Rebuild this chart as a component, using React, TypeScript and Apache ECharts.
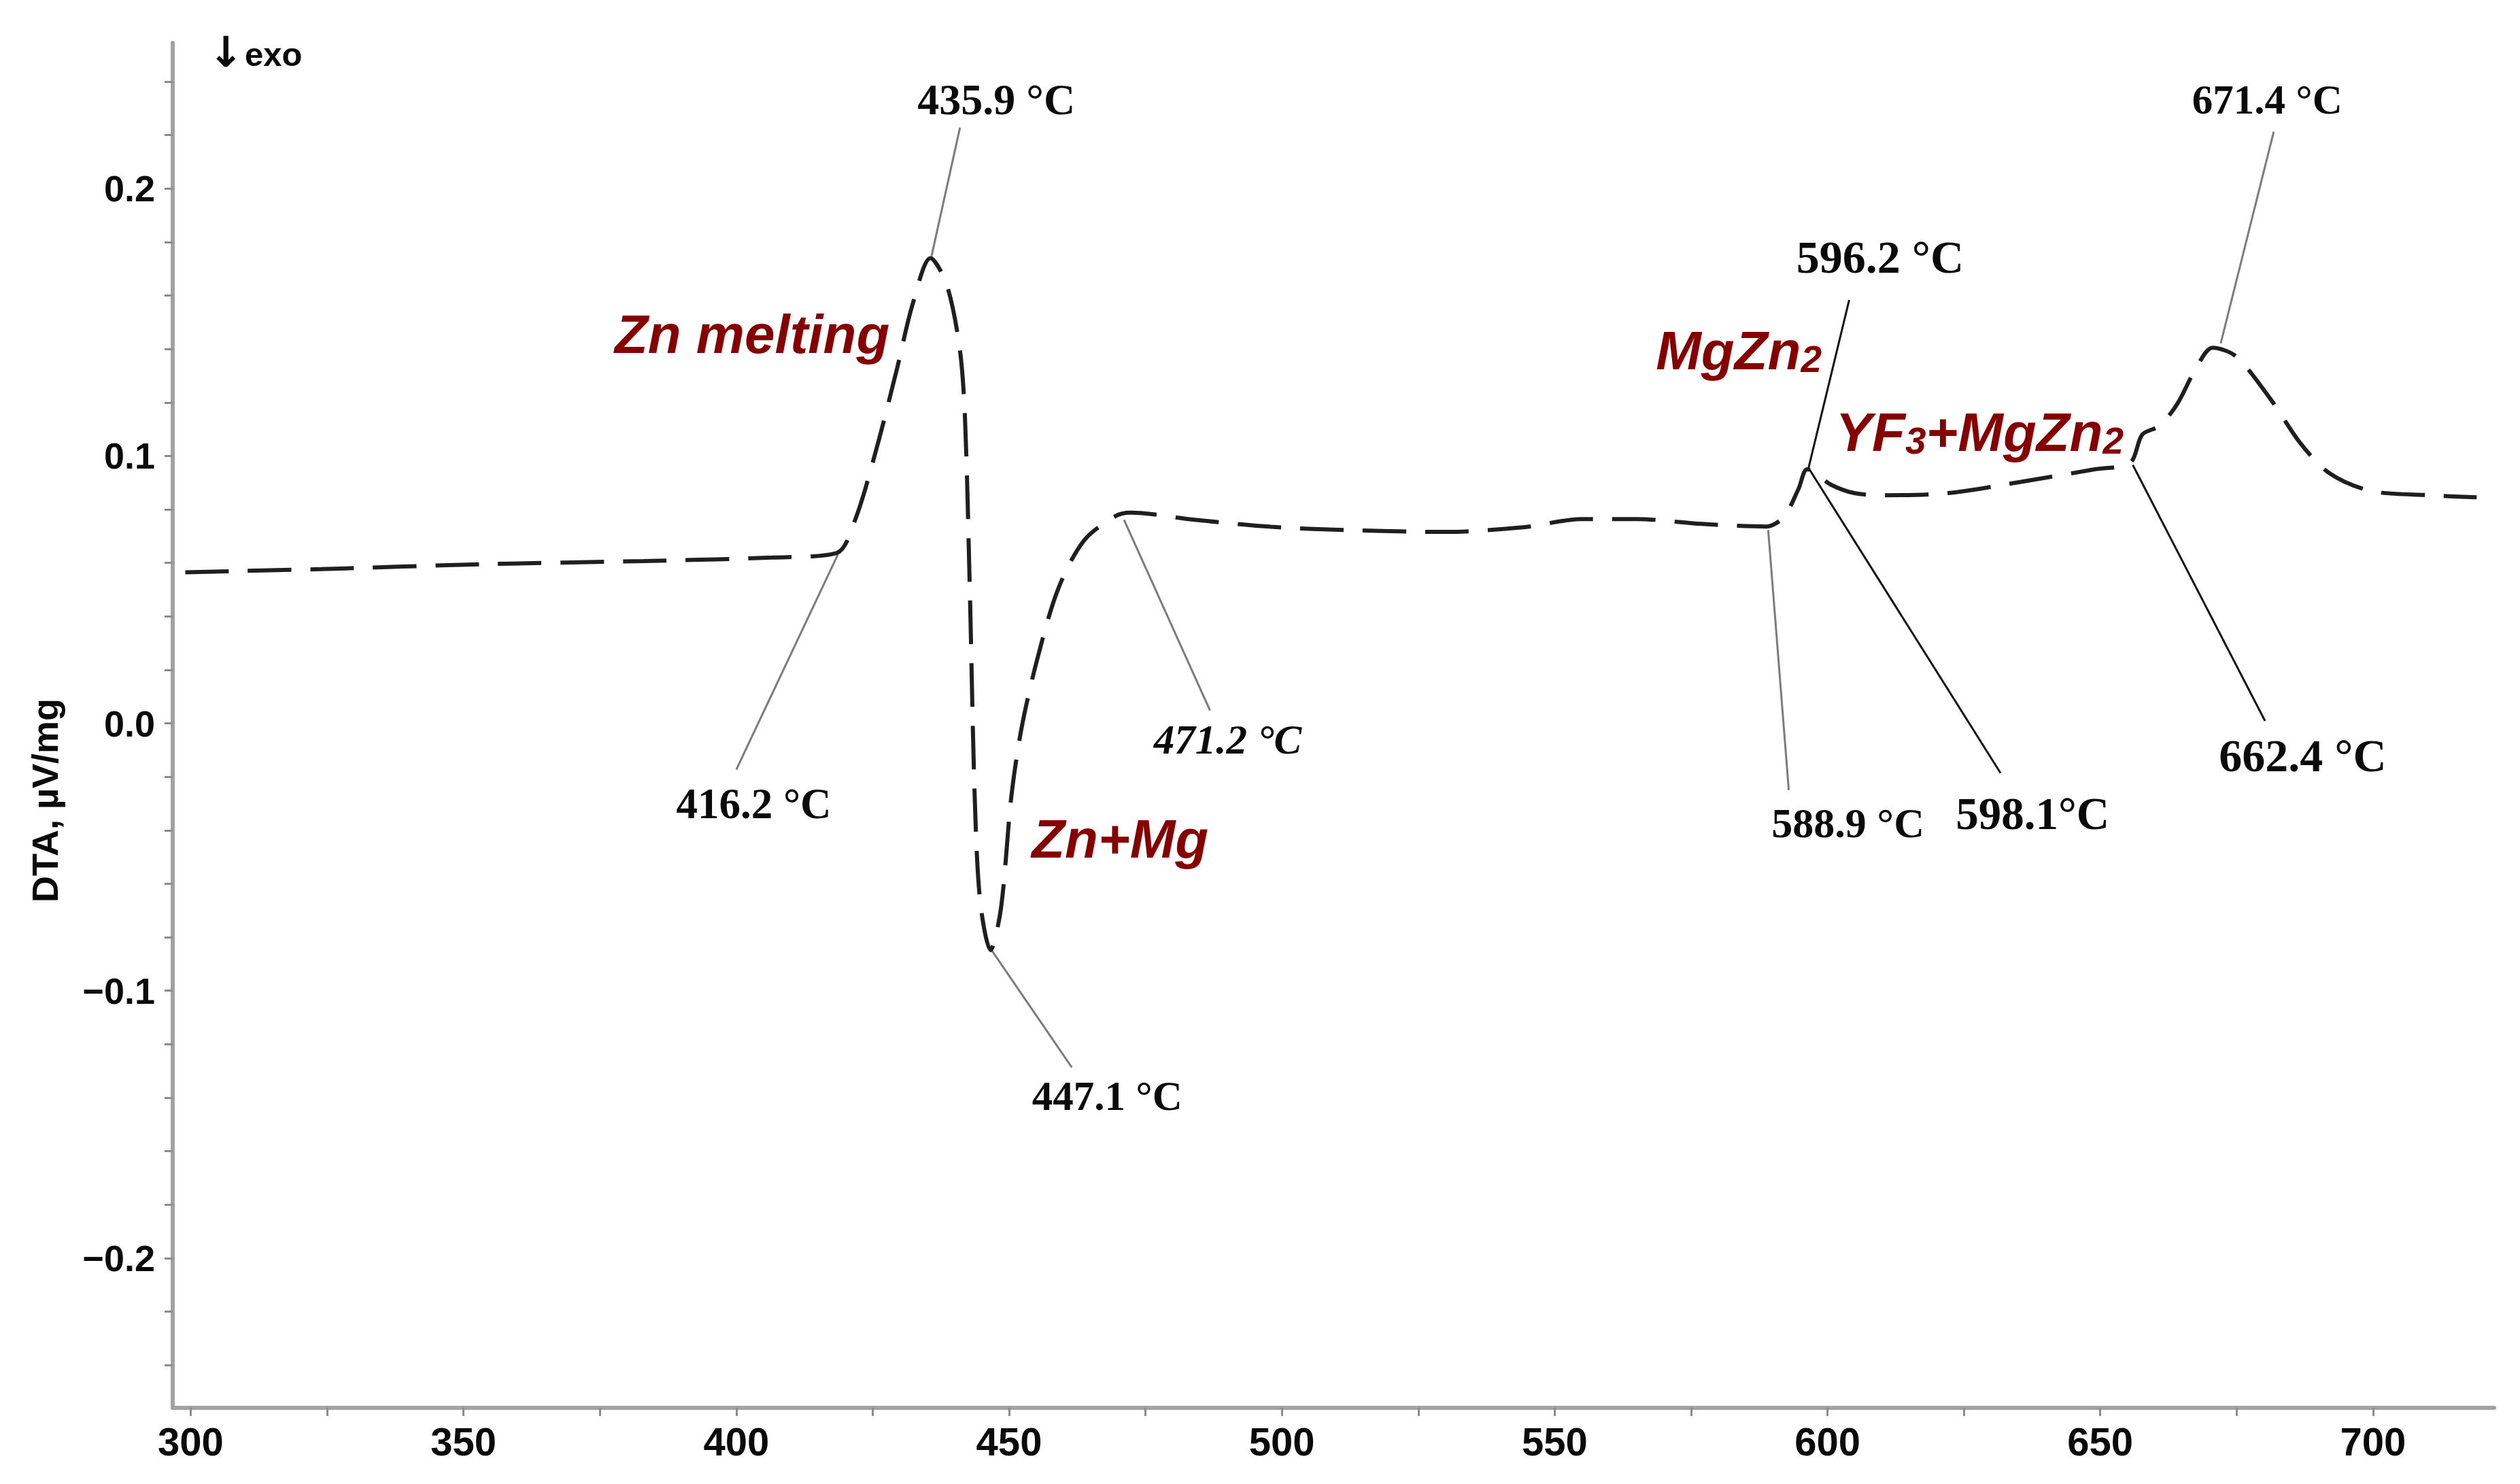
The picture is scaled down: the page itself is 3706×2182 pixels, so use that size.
import React, { useEffect, useRef } from 'react';
import * as echarts from 'echarts';

// ---- DTA curve (temperature °C, DTA µV/mg) ----
const temperature = [
  299, 324, 353.5, 383, 406.6, 418.4, 421.8, 425.6, 429.5, 432.3, 435.6, 438.5, 440.9, 441.9,
  442.8, 443.7, 444.7, 446.6, 448.5, 450.4, 452.3, 455.2, 459, 463.7, 469.5, 472.3, 483.7, 498,
  513.3, 529.9, 544.6, 554.8, 565.1, 576.9, 588.8, 592, 594.7, 596.3, 600.6, 604.9, 610.3, 622.1,
  635.1, 649, 655.5, 657.7, 660.9, 664.1, 667.4, 670.6, 674.9, 681.3, 686.7, 692.1, 699.6, 710.4, 719,
];
const dta = [
  0.0565, 0.0577, 0.0595, 0.0607, 0.062, 0.0637, 0.0762, 0.102, 0.133, 0.1566, 0.174, 0.1645, 0.141, 0.115,
  0.05, -0.0276, -0.0666, -0.0848, -0.0693, -0.0276, -0.0016, 0.0243, 0.0503, 0.0683, 0.0775, 0.0788, 0.0762, 0.0735,
  0.0722, 0.0716, 0.0734, 0.0764, 0.0764, 0.0746, 0.0736, 0.0772, 0.0877, 0.095, 0.0893, 0.0861, 0.0853, 0.0861,
  0.0902, 0.095, 0.0975, 0.108, 0.1113, 0.1194, 0.1322, 0.1405, 0.1372, 0.121, 0.1047, 0.0934, 0.0869, 0.0853, 0.0845,
];

// ---- axes ----
const xMin = 296.7;
const xMax = 722.2;
const yMin = -0.256;
const yMax = 0.2545;
const xTickValues = [300, 325, 350, 375, 400, 425, 450, 475, 500, 525, 550, 575, 600, 625, 650, 675, 700];
const xLabelValues = [300, 350, 400, 450, 500, 550, 600, 650, 700];
const yTickValues = [
  -0.24, -0.22, -0.2, -0.18, -0.16, -0.14, -0.12, -0.1, -0.08, -0.06, -0.04, -0.02, 0,
  0.02, 0.04, 0.06, 0.08, 0.1, 0.12, 0.14, 0.16, 0.18, 0.2, 0.22, 0.24,
];
const yLabelValues = [-0.2, -0.1, 0, 0.1, 0.2];
const yAxisTitle = 'DTA, µV/mg';
const exoArrow = '↓';
const exoText = 'exo';

// ---- temperature annotations ----
const peakTexts = ['435.9 °C', '416.2 °C', '471.2 °C', '447.1 °C', '596.2 °C', '588.9 °C', '598.1°C', '662.4 °C', '671.4 °C'];
const peakTextT = [447.66, 403.2, 490.07, 467.98, 609.65, 603.75, 637.6, 687.1, 680.6];
const peakTextV = [0.2333, -0.0301, -0.006, -0.1395, 0.1744, -0.0373, -0.0337, -0.012, 0.2333];
const leaderFromT = [435.79, 418.62, 471.07, 446.78, 596.47, 589.14, 596.68, 655.97, 672.08];
const leaderFromV = [0.1748, 0.0631, 0.0761, -0.0848, 0.095, 0.0723, 0.095, 0.0966, 0.1421];
const leaderToT = [441.0, 400.0, 486.83, 461.5, 603.98, 592.91, 631.73, 680.2, 681.8];
const leaderToV = [0.2228, -0.0173, 0.0048, -0.1287, 0.1583, -0.025, -0.0186, 0.0009, 0.2213];

// ---- phase annotations ----
const phaseTexts = ['Zn melting', 'Zn+Mg', '{m|MgZn}{s|2}', '{m|YF}{s|3}{m|+MgZn}{s|2}'];
const phaseT = [402.9, 470.34, 583.74, 627.9];
const phaseV = [0.1455, -0.0433, 0.1395, 0.1089];

// ---- styles ----
const peakItalic = [false, false, true, false, false, false, false, false, false];
const peakFontSize = [64, 63, 61, 61, 68, 62, 67, 68, 61];
const leaderDark = [false, false, false, false, true, false, true, true, false];
const serif = "'Liberation Serif', 'Times New Roman', serif";
const sans = "'Liberation Sans', Arial, sans-serif";
const red = '#850000';
const ink = '#0a0a0a';

export default function App() {
  const ref = useRef<HTMLDivElement>(null);

  useEffect(() => {
    if (!ref.current) return;
    const chart = echarts.init(ref.current, null, { renderer: 'svg' });

    const curve = temperature.map((t, i) => [t, dta[i]]);

    const peakItems = peakTexts.map((txt, i) => ({
      value: [peakTextT[i], peakTextV[i]],
      name: txt,
      label: {
        fontSize: peakFontSize[i],
        fontStyle: peakItalic[i] ? 'italic' : 'normal',
      },
    }));

    const phaseItems = phaseTexts.map((txt, i) => ({
      value: [phaseT[i], phaseV[i]],
      name: txt,
    }));

    const leaders = peakTexts.map((_, i) => ({
      coords: [
        [leaderFromT[i], leaderFromV[i]],
        [leaderToT[i], leaderToV[i]],
      ],
      lineStyle: {
        color: leaderDark[i] ? '#141414' : '#7c7c7c',
        width: 3,
        opacity: 1,
      },
    }));

    const axisGray = '#a2a2a2';

    chart.setOption({
      animation: false,
      backgroundColor: '#ffffff',
      grid: { left: 254, right: 38, top: 63, bottom: 112, containLabel: false },
      xAxis: {
        type: 'value',
        min: xMin,
        max: xMax,
        axisLine: { show: true, onZero: false, lineStyle: { color: axisGray, width: 6 } },
        axisTick: {
          show: true,
          customValues: xTickValues,
          length: 12,
          lineStyle: { color: '#8c8c8c', width: 3 },
        },
        axisLabel: {
          customValues: xLabelValues,
          margin: 20,
          fontFamily: "'Liberation Sans Narrow', 'Arial Narrow', 'Liberation Sans', Arial, sans-serif",
          fontWeight: 'bold',
          fontSize: 58,
          color: ink,
          formatter: (v: number) => String(Math.round(v)),
        },
        splitLine: { show: false },
      },
      yAxis: {
        type: 'value',
        min: yMin,
        max: yMax,
        axisLine: { show: true, onZero: false, lineStyle: { color: axisGray, width: 6 } },
        axisTick: {
          show: true,
          customValues: yTickValues,
          length: 12,
          lineStyle: { color: '#8c8c8c', width: 3 },
        },
        axisLabel: {
          customValues: yLabelValues,
          margin: 26,
          fontFamily: sans,
          fontWeight: 'bold',
          fontSize: 54,
          color: ink,
          formatter: (v: number) => {
            const r = Math.round(v * 10) / 10;
            return (r < 0 ? '\u2212' : '') + Math.abs(r).toFixed(1);
          },
        },
        splitLine: { show: false },
      },
      graphic: [
        {
          type: 'text',
          x: 306,
          y: 76,
          style: {
            text: exoArrow,
            font: `bold 62px 'DejaVu Sans', sans-serif`,
            fill: ink,
            align: 'left',
            verticalAlign: 'middle',
          },
        },
        {
          type: 'text',
          x: 360,
          y: 80,
          style: {
            text: exoText,
            font: `bold 49px ${sans}`,
            fill: ink,
            align: 'left',
            verticalAlign: 'middle',
          },
        },
        {
          type: 'text',
          x: 66,
          y: 1177,
          rotation: Math.PI / 2,
          style: {
            text: yAxisTitle,
            font: `bold 54px ${sans}`,
            fill: ink,
            align: 'center',
            verticalAlign: 'middle',
          },
        },
      ],
      series: [
        {
          type: 'lines',
          coordinateSystem: 'cartesian2d',
          silent: true,
          z: 1,
          data: leaders,
        },
        {
          type: 'line',
          name: 'DTA',
          data: curve,
          showSymbol: false,
          symbol: 'none',
          smooth: 0.3,
          silent: true,
          z: 3,
          lineStyle: { color: '#1f1f1f', width: 6, type: [64, 28] },
        },
        {
          type: 'scatter',
          silent: true,
          symbolSize: 1,
          itemStyle: { opacity: 0 },
          z: 4,
          data: peakItems,
          label: {
            show: true,
            position: 'inside',
            opacity: 1,
            formatter: (p: any) => p.name,
            fontFamily: serif,
            fontWeight: 'bold',
            color: ink,
          },
        },
        {
          type: 'scatter',
          silent: true,
          symbolSize: 1,
          itemStyle: { opacity: 0 },
          z: 4,
          data: phaseItems,
          label: {
            show: true,
            position: 'inside',
            opacity: 1,
            formatter: (p: any) => p.name,
            fontFamily: sans,
            fontWeight: 'bold',
            fontStyle: 'italic',
            fontSize: 80,
            color: red,
            rich: {
              m: { fontFamily: sans, fontWeight: 'bold', fontStyle: 'italic', fontSize: 80, color: red },
              s: {
                fontFamily: sans,
                fontWeight: 'bold',
                fontStyle: 'italic',
                fontSize: 55,
                color: red,
                verticalAlign: 'bottom',
              },
            },
          },
        },
      ],
    });

    return () => chart.dispose();
  }, []);

  return (
    <div
      ref={ref}
      style={{ position: 'absolute', left: 0, top: 0, width: 3706, height: 2182 }}
    />
  );
}
